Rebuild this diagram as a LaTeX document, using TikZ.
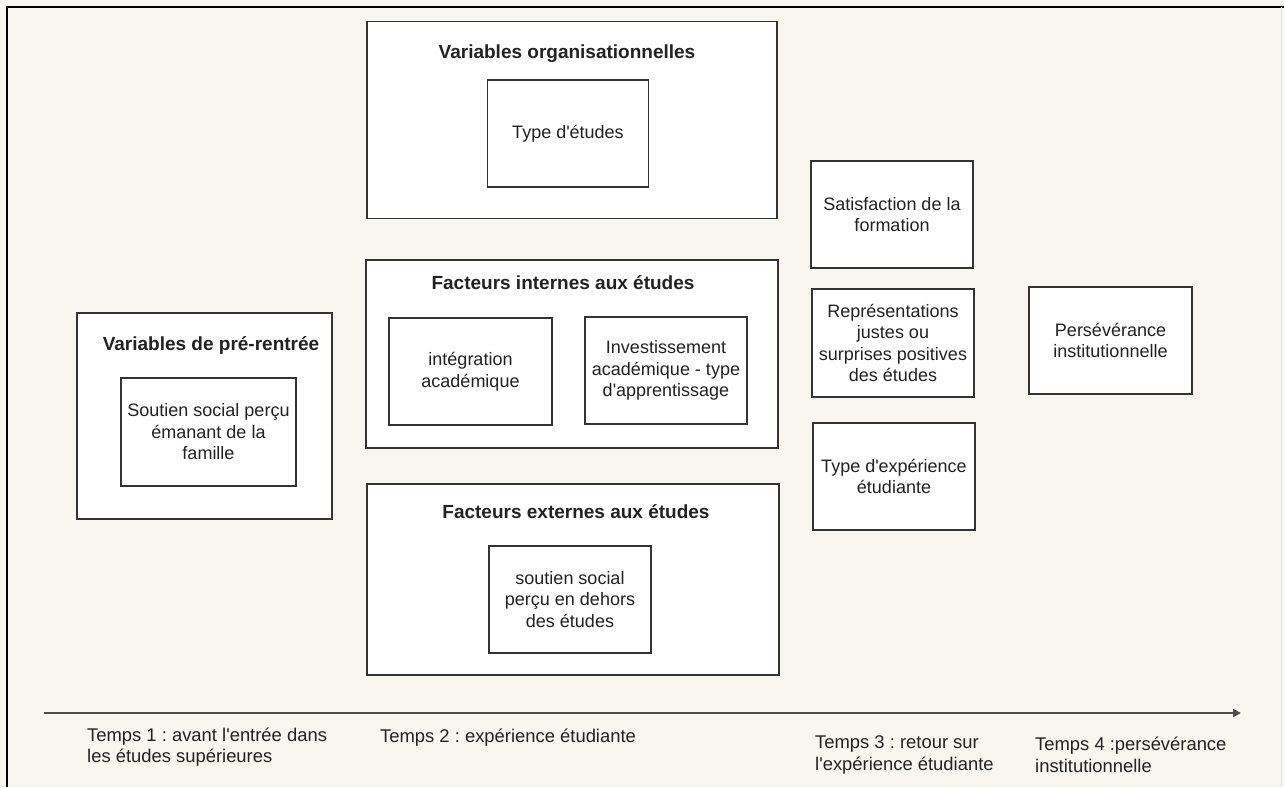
\documentclass[tikz,border=0pt]{standalone}
\usepackage{fontspec}
\setmainfont{Liberation Sans}[Ligatures=TeXOff]
\usetikzlibrary{arrows.meta}
\definecolor{bgcream}{HTML}{F8F6EF}
\definecolor{edge}{HTML}{333333}
\definecolor{ink}{HTML}{222222}
\frenchspacing
\begin{document}
\begin{tikzpicture}[x=1pt,y=-1pt,
  box/.style={draw=edge,line width=1.4pt,fill=white,inner sep=0pt},
  txt/.style={text=ink,align=center,inner sep=0pt,font=\fontsize{18}{21.5}\selectfont},
  ttl/.style={text=ink,inner sep=0pt,font=\fontsize{19}{22}\selectfont\bfseries},
  lbl/.style={text=ink,align=left,anchor=west,inner sep=0pt,font=\fontsize{18.4}{21.5}\selectfont}]
\fill[bgcream] (0,0) rectangle (1284,787);
\useasboundingbox (0,0) rectangle (1284,787);
\draw[black,line width=2pt] (7,787) -- (7,7) -- (1284,7);
\draw[black!10,line width=1pt] (1281,7) -- (1281,787);
% organisational
\node[box,minimum width=410,minimum height=197] (org) at (572,120) {};
\node[ttl] (orgT) at (567,54) {Variables organisationnelles};
\node[box,txt,minimum width=161,minimum height=107] (type) at (568,133.5) {Type d'études};
% pre-rentree
\node[box,minimum width=255,minimum height=206] (pre) at (204.5,416) {};
\node[ttl] (preT) at (211,345) {Variables de pré-rentrée};
\node[box,txt,minimum width=175,minimum height=108] (fam) at (208.5,432) {Soutien social perçu\\émanant de la\\famille};
% internes
\node[box,minimum width=412,minimum height=188] (int) at (572,354) {};
\node[ttl] (intT) at (563,283) {Facteurs internes aux études};
\node[box,txt,minimum width=163,minimum height=107] (integ) at (470.5,371.5) {intégration\\académique};
\node[box,txt,minimum width=162,minimum height=107] (invest) at (666,370.5) {Investissement\\académique - type\\d'apprentissage};
% externes
\node[box,minimum width=412,minimum height=191] (ext) at (573,579.5) {};
\node[ttl] (extT) at (576,512) {Facteurs externes aux études};
\node[box,txt,minimum width=162,minimum height=107] (sout) at (570,599.5) {soutien social\\perçu en dehors\\des études};
% time 3
\node[box,txt,minimum width=162,minimum height=107] (sat) at (892,214.5) {Satisfaction de la\\formation};
\node[box,txt,minimum width=162,minimum height=108] (rep) at (893,343) {Représentations\\justes ou\\surprises positives\\des études};
\node[box,txt,minimum width=162,minimum height=107] (texp) at (894,476.5) {Type d'expérience\\étudiante};
% time 4
\node[box,txt,minimum width=163,minimum height=107] (pers) at (1110.5,340.5) {Persévérance\\institutionnelle};
% time axis
\coordinate (axS) at (44,713);
\coordinate (axE) at (1241,713);
\draw[black!70,line width=2pt,-{Triangle[length=8pt,width=8pt]}] (axS) -- (axE);
\node[lbl] (t1) at (87,747) {Temps 1 : avant l'entrée dans\\les études supérieures};
\node[lbl] (t2) at (380,738) {Temps 2 : expérience étudiante};
\node[lbl] (t3) at (815,755) {Temps 3 : retour sur\\l'expérience étudiante};
\node[lbl] (t4) at (1035,755) {Temps 4 :persévérance\\institutionnelle};
\end{tikzpicture}
\end{document}
